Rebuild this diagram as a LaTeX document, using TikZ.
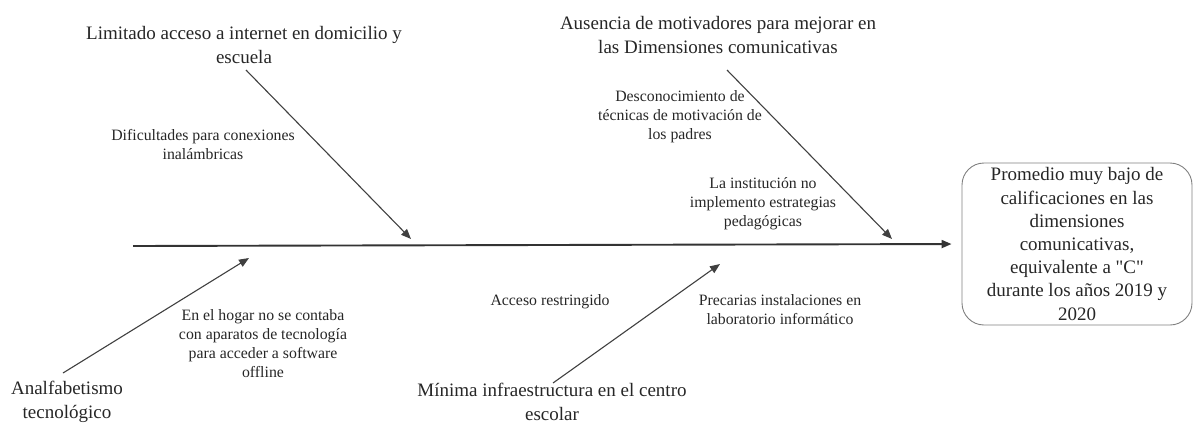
\documentclass[tikz,border=0pt]{standalone}
\usepackage{fontspec}
\setmainfont{Liberation Serif}
\usetikzlibrary{arrows.meta}
\begin{document}
\begin{tikzpicture}[x=1pt,y=-1pt,
  big/.style={align=center,inner sep=0pt,font=\fontsize{19}{23.5}\selectfont,text=black!85},
  small/.style={align=center,inner sep=0pt,font=\fontsize{15.8}{19}\selectfont,text=black!85},
  branch/.style={draw=black!75,line width=1.1pt,-{Triangle[length=10pt,width=8pt]}},
  spine/.style={draw=black!80,line width=1.9pt,-{Triangle[length=10pt,width=8pt]}},
  effect/.style={draw=black!50,line width=0.9pt,rounded corners=22pt,minimum width=230pt,minimum height=162pt,align=center,inner sep=0pt,font=\fontsize{19}{23.2}\selectfont,text=black!85}]
\useasboundingbox (0,0) rectangle (1193,423);
% effect box
\node[effect] (box) at (1077,244) {Promedio muy bajo de\\calificaciones en las\\dimensiones\\comunicativas,\\equivalente a \textquotedbl C\textquotedbl\\durante los años 2019 y\\2020};
% cause labels
\node[big] (n1) at (244,45) {Limitado acceso a internet en domicilio y\\escuela};
\node[small] (n2) at (203,145) {Dificultades para conexiones\\inalámbricas};
\node[big] (n3) at (718,35) {Ausencia de motivadores para mejorar en\\las Dimensiones comunicativas};
\node[small] (n4) at (680,117) {Desconocimiento de\\técnicas de motivación de\\los padres};
\node[small] (n5) at (763,204) {La institución no\\implemento estrategias\\pedagógicas};
\node[small] (n6) at (263,344) {En el hogar no se contaba\\con aparatos de tecnología\\para acceder a software\\offline};
\node[big] (n7) at (67,402) {Analfabetismo\\tecnológico};
\node[small] (n8) at (550,302) {Acceso restringido};
\node[small] (n9) at (780,310) {Precarias instalaciones en\\laboratorio informático};
\node[big] (n10) at (552,402) {Mínima infraestructura en el centro\\escolar};
% coordinates
\coordinate (s0) at (133,246);
\coordinate (a1) at (246,70);
\coordinate (e1) at (411,239);
\coordinate (a2) at (727,70);
\coordinate (e2) at (892,239);
\coordinate (a3) at (63,373);
\coordinate (e3) at (249,258);
\coordinate (a4) at (553,383);
\coordinate (e4) at (720,264);
% spine
\draw[spine,shorten >=10pt] (s0) -- (box.west);
% branches
\draw[branch] (a1) -- (e1);
\draw[branch] (a2) -- (e2);
\draw[branch] (a3) -- (e3);
\draw[branch] (a4) -- (e4);
\end{tikzpicture}
\end{document}
